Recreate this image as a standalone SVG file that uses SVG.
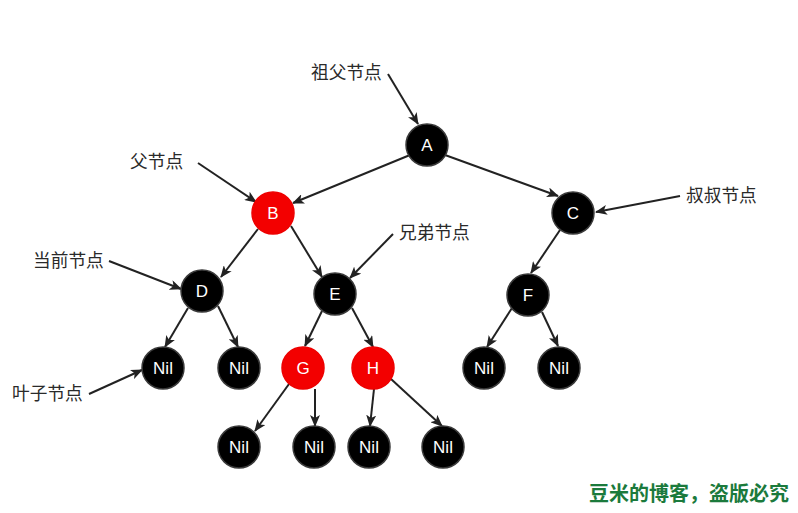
<svg xmlns="http://www.w3.org/2000/svg" width="798" height="513" viewBox="0 0 798 513">
<style>
.n circle{stroke:#3a3a3a;stroke-width:1.5}
.b circle{fill:#000}
.r circle{fill:#f30000;stroke:#e00}
.n text{fill:#fff;font-family:"Liberation Sans",Arial,sans-serif;font-size:17px;text-anchor:middle}
.lbl{fill:#2a2a2a;font-family:"Noto Sans CJK SC",sans-serif;font-size:17.7px}
#edges line{stroke:#222;stroke-width:2;marker-end:url(#ah)}
.wm{fill:#1b7a3c;font-family:"Noto Sans CJK SC",sans-serif;font-size:20px;font-weight:bold}
</style>
<defs>
<marker id="ah" markerWidth="12" markerHeight="10" refX="11" refY="5" orient="auto" markerUnits="userSpaceOnUse">
<path d="M0,0 L12,5 L0,10 L3,5 Z" fill="#222"/>
</marker>
</defs>
<rect width="798" height="513" fill="#fff"/>
<g id="edges">
<line x1="410" y1="155" x2="293" y2="203"/>
<line x1="445" y1="155" x2="558" y2="196"/>
<line x1="258" y1="229" x2="221" y2="277"/>
<line x1="291" y1="226" x2="322" y2="277"/>
<line x1="188" y1="308" x2="165" y2="347"/>
<line x1="218" y1="306" x2="238" y2="347"/>
<line x1="322" y1="311" x2="305" y2="346"/>
<line x1="352" y1="308" x2="373" y2="347"/>
<line x1="560" y1="230" x2="531" y2="273"/>
<line x1="512" y1="308" x2="487" y2="347"/>
<line x1="542" y1="312" x2="558" y2="346"/>
<line x1="289" y1="384" x2="255" y2="431"/>
<line x1="315" y1="389" x2="315" y2="426"/>
<line x1="374" y1="389" x2="370" y2="426"/>
<line x1="391" y1="379" x2="442" y2="426"/>
<line x1="388" y1="74" x2="418" y2="124"/>
<line x1="198" y1="163" x2="256" y2="202"/>
<line x1="393" y1="234" x2="350" y2="278"/>
<line x1="680" y1="196" x2="596" y2="212"/>
<line x1="109" y1="261" x2="181" y2="289"/>
<line x1="89" y1="394" x2="142" y2="370"/>
</g>
<g id="nA" class="n b"><circle cx="427" cy="145" r="21"/><text x="427" y="151">A</text></g>
<g id="nB" class="n r"><circle cx="273" cy="213" r="21"/><text x="273" y="219">B</text></g>
<g id="nC" class="n b"><circle cx="573" cy="213" r="21"/><text x="573" y="219">C</text></g>
<g id="nD" class="n b"><circle cx="202" cy="291" r="21"/><text x="202" y="297">D</text></g>
<g id="nE" class="n b"><circle cx="335" cy="294" r="21"/><text x="335" y="300">E</text></g>
<g id="nF" class="n b"><circle cx="528" cy="295" r="21"/><text x="528" y="301">F</text></g>
<g id="nNil1" class="n b"><circle cx="163" cy="368" r="21"/><text x="163" y="374">Nil</text></g>
<g id="nNil2" class="n b"><circle cx="239" cy="368" r="21"/><text x="239" y="374">Nil</text></g>
<g id="nG" class="n r"><circle cx="303" cy="368" r="21"/><text x="303" y="374">G</text></g>
<g id="nH" class="n r"><circle cx="373" cy="368" r="21"/><text x="373" y="374">H</text></g>
<g id="nNil3" class="n b"><circle cx="484" cy="368" r="21"/><text x="484" y="374">Nil</text></g>
<g id="nNil4" class="n b"><circle cx="559" cy="368" r="21"/><text x="559" y="374">Nil</text></g>
<g id="nNil5" class="n b"><circle cx="239" cy="447" r="21"/><text x="239" y="453">Nil</text></g>
<g id="nNil6" class="n b"><circle cx="314" cy="447" r="21"/><text x="314" y="453">Nil</text></g>
<g id="nNil7" class="n b"><circle cx="369" cy="447" r="21"/><text x="369" y="453">Nil</text></g>
<g id="nNil8" class="n b"><circle cx="443" cy="447" r="21"/><text x="443" y="453">Nil</text></g>
<g id="labels">
<text class="lbl" x="311" y="79">祖父节点</text>
<text class="lbl" x="130" y="168">父节点</text>
<text class="lbl" x="399" y="239">兄弟节点</text>
<text class="lbl" x="686" y="202">叔叔节点</text>
<text class="lbl" x="33" y="267">当前节点</text>
<text class="lbl" x="12" y="400">叶子节点</text>
</g>
<text class="wm" x="589" y="501">豆米的博客，盗版必究</text>
</svg>
